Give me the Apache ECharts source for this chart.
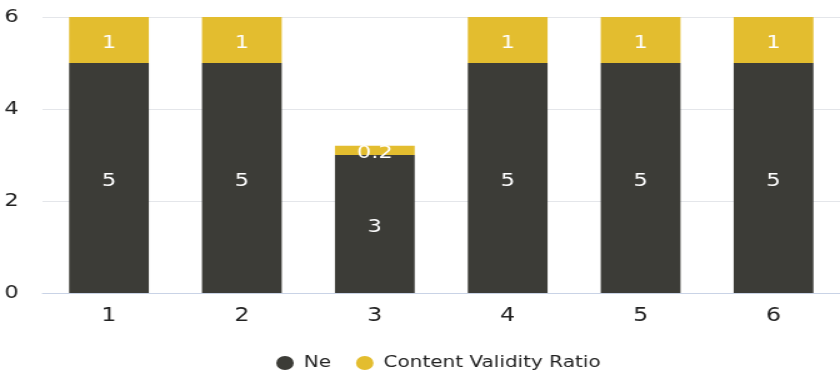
<!DOCTYPE html>
<html>
<head>
<meta charset="utf-8">
<script src="https://cdn.jsdelivr.net/npm/echarts@6/dist/echarts.min.js"></script>
<style>
  html, body { margin: 0; padding: 0; background: #fff; overflow: hidden; }
  /* the reference is stretched sideways, so the chart is drawn narrower and widened */
  #chart { width: 672px; height: 374px; transform: scaleX(1.25); transform-origin: 0 0; }
</style>
</head>
<body>
<div id="chart"></div>
<script>
const categories = ["1", "2", "3", "4", "5", "6"];
const neValues = [5, 5, 3, 5, 5, 5];
const cvrValues = [1, 1, 0.2, 1, 1, 1];

const FONT = "DejaVu Sans";
const chart = echarts.init(document.getElementById("chart"));
const label = {
  show: true,
  position: "inside",
  offset: [0, 3],
  color: "#fff",
  fontSize: 18,
  fontFamily: FONT,
};
chart.setOption({
  animation: false,
  textStyle: { fontFamily: FONT },
  grid: { left: 34, top: 17, width: 640, height: 276 },
  legend: {
    left: 216,
    top: 350,
    itemGap: 20,
    icon: "circle",
    itemWidth: 20,
    itemHeight: 14,
    textStyle: { fontSize: 16, color: "#222", fontFamily: FONT },
    data: ["Ne", "Content Validity Ratio"],
  },
  xAxis: {
    type: "category",
    data: categories,
    axisTick: { show: false },
    axisLine: { lineStyle: { color: "#c9d3e6" } },
    axisLabel: { color: "#222", fontSize: 19, margin: 14, fontFamily: FONT },
  },
  yAxis: {
    type: "value",
    min: 0,
    max: 6,
    interval: 2,
    axisLabel: { color: "#222", fontSize: 18, margin: 19, fontFamily: FONT },
    splitLine: { lineStyle: { color: "#e4e6ea" } },
  },
  series: [
    {
      name: "Ne",
      type: "bar",
      stack: "total",
      barWidth: "60%",
      data: neValues,
      itemStyle: { color: "#3c3c37" },
      label: label,
    },
    {
      name: "Content Validity Ratio",
      type: "bar",
      stack: "total",
      barWidth: "60%",
      data: cvrValues,
      itemStyle: { color: "#e3bd2f" },
      label: label,
    },
  ],
});
</script>
</body>
</html>
